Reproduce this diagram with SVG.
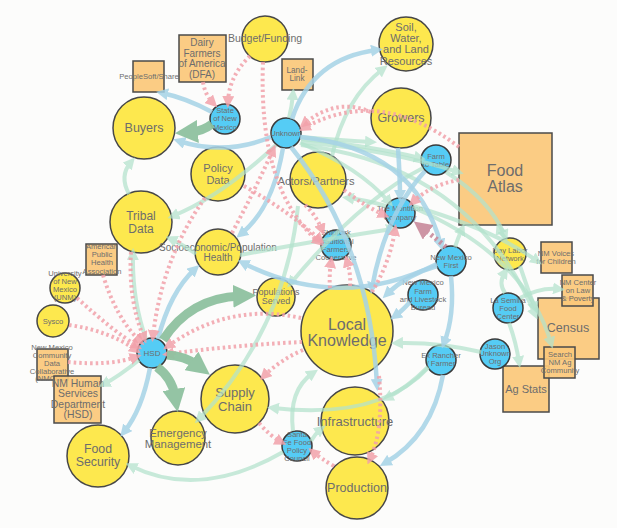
<svg xmlns="http://www.w3.org/2000/svg" width="617" height="528" viewBox="0 0 617 528">
<defs>
<style>
.y{fill:#fde84e;stroke:#474747;stroke-width:1.5}
.c{fill:#55ccf5;stroke:#3a3a3a;stroke-width:1.5}
.o{fill:#fbc87a;fill-opacity:0.92;stroke:#4a4a4a;stroke-width:1.5}
text{font-family:"Liberation Sans",Arial,sans-serif;fill:#6d6d6d;text-anchor:middle;dominant-baseline:central}
.s{font-size:7.6px}
.b{fill:none;stroke:#a6d3e7;stroke-width:4.5;marker-end:url(#ab);opacity:0.85}
.g{fill:none;stroke:#b3e3cd;stroke-width:4;marker-end:url(#ag);opacity:0.72}
.p{fill:none;stroke:#f2a2ab;stroke-width:4;stroke-dasharray:2.5 3;marker-end:url(#ap);opacity:0.85}
.m{fill:none;stroke:#c98a9b;stroke-width:5;stroke-dasharray:2.5 3;marker-end:url(#am);opacity:0.9}
.dg{fill:none;stroke:#8fc2a0;stroke-width:9;marker-end:url(#adg);opacity:0.95}
</style>
<marker id="ab" viewBox="0 0 10 10" refX="5" refY="5" markerWidth="12" markerHeight="12" orient="auto" markerUnits="userSpaceOnUse"><path d="M0,0L10,5L0,10z" fill="#a6d3e7"/></marker>
<marker id="ag" viewBox="0 0 10 10" refX="5" refY="5" markerWidth="12" markerHeight="12" orient="auto" markerUnits="userSpaceOnUse"><path d="M0,0L10,5L0,10z" fill="#b3e3cd"/></marker>
<marker id="ap" viewBox="0 0 10 10" refX="5" refY="5" markerWidth="12" markerHeight="12" orient="auto" markerUnits="userSpaceOnUse"><path d="M0,0L10,5L0,10z" fill="#f2a2ab"/></marker>
<marker id="am" viewBox="0 0 10 10" refX="5" refY="5" markerWidth="18" markerHeight="18" orient="auto" markerUnits="userSpaceOnUse"><path d="M0,0L10,5L0,10z" fill="#c98a9b"/></marker>
<marker id="adg" viewBox="0 0 10 10" refX="3" refY="5" markerWidth="23" markerHeight="23" orient="auto" markerUnits="userSpaceOnUse"><path d="M0,0L10,5L0,10z" fill="#8fc2a0"/></marker>
</defs>
<rect width="617" height="528" fill="#fcfcfb"/>

<g id="nodes">
<g id="peoplesoft-share"><rect x="133" y="61" width="31" height="31" class="o"/><text x="149" y="76" class="s">PeopleSoft/Share</text></g>
<g id="dfa"><rect x="179" y="35" width="47" height="47" class="o"/><text x="202" style="font-size:10px"><tspan x="202" y="42">Dairy</tspan><tspan x="202" y="53">Farmers</tspan><tspan x="202" y="63">of America</tspan><tspan x="202" y="74">(DFA)</tspan></text></g>
<g id="land-link"><rect x="282" y="59" width="31" height="31" class="o"/><text style="font-size:8.2px"><tspan x="297" y="70">Land-</tspan><tspan x="297" y="78">Link</tspan></text></g>
<g id="food-atlas"><rect x="459" y="133" width="93" height="92" class="o"/><text style="font-size:16px"><tspan x="505" y="170">Food</tspan><tspan x="505" y="186">Atlas</tspan></text></g>
<g id="census"><rect x="538" y="298" width="61" height="61" class="o"/><text x="568" y="328" style="font-size:12.5px">Census</text></g>
<g id="nm-voices"><rect x="541" y="242" width="31" height="31" class="o"/><text class="s"><tspan x="556" y="253">NM Voices</tspan><tspan x="556" y="261">for Children</tspan></text></g>
<g id="nm-center-law"><rect x="562" y="275" width="31" height="31" class="o"/><text class="s"><tspan x="578" y="282">NM Center</tspan><tspan x="578" y="290">on Law</tspan><tspan x="578" y="298">&amp; Poverty</tspan></text></g>
<g id="ag-stats"><rect x="503" y="366" width="46" height="46" class="o"/><text x="526" y="389" style="font-size:11px">Ag Stats</text></g>
<g id="search-nm-ag"><rect x="544" y="347" width="31" height="31" class="o"/><text class="s"><tspan x="560" y="354">Search</tspan><tspan x="560" y="362">NM Ag</tspan><tspan x="560" y="370">Community</tspan></text></g>
<g id="apha"><rect x="86" y="244" width="31" height="31" class="o"/><text class="s"><tspan x="102" y="246">American</tspan><tspan x="102" y="254">Public</tspan><tspan x="102" y="262">Health</tspan><tspan x="102" y="271">Association</tspan></text></g>
<g id="nmcdc"><rect x="37" y="349" width="31" height="31" class="o"/><text class="s"><tspan x="52" y="347">New Mexico</tspan><tspan x="52" y="355">Community</tspan><tspan x="52" y="363">Data</tspan><tspan x="52" y="371">Collaborative</tspan><tspan x="52" y="378">(NMCDC)</tspan></text></g>
<g id="nm-hsd"><rect x="54" y="376" width="47" height="47" class="o"/><text style="font-size:10.4px"><tspan x="78" y="383">NM Human</tspan><tspan x="78" y="393">Services</tspan><tspan x="78" y="404">Department</tspan><tspan x="78" y="414">(HSD)</tspan></text></g>

<g id="budget-funding"><circle cx="265" cy="39" r="23" class="y"/><text x="265" y="38" style="font-size:10.5px">Budget/Funding</text></g>
<g id="soil-water-land"><circle cx="406" cy="44" r="27" class="y"/><text style="font-size:11px"><tspan x="406" y="27">Soil,</tspan><tspan x="406" y="38">Water,</tspan><tspan x="406" y="49">and Land</tspan><tspan x="406" y="61">Resources</tspan></text></g>
<g id="growers"><circle cx="401" cy="118" r="30" class="y"/><text x="401" y="118" style="font-size:12.5px">Growers</text></g>
<g id="buyers"><circle cx="144" cy="128" r="31" class="y"/><text x="144" y="128" style="font-size:12.5px">Buyers</text></g>
<g id="policy-data"><circle cx="218" cy="174" r="27" class="y"/><text style="font-size:11px"><tspan x="218" y="168">Policy</tspan><tspan x="218" y="180">Data</tspan></text></g>
<g id="tribal-data"><circle cx="141" cy="222" r="31" class="y"/><text style="font-size:12px"><tspan x="141" y="216">Tribal</tspan><tspan x="141" y="229">Data</tspan></text></g>
<g id="actors-partners"><circle cx="318" cy="180" r="28" class="y"/><text x="316" y="181" style="font-size:11.2px">Actors/Partners</text></g>
<g id="socio-health"><circle cx="218" cy="252" r="23" class="y"/><text style="font-size:10px"><tspan x="218" y="247">Socioeconomic/Population</tspan><tspan x="218" y="257">Health</tspan></text></g>
<g id="unm"><circle cx="65" cy="288" r="15" class="y"/><text class="s"><tspan x="65" y="273">University</tspan><tspan x="65" y="281">of New</tspan><tspan x="65" y="289">Mexico</tspan><tspan x="65" y="297">(UNM)</tspan></text></g>
<g id="sysco"><circle cx="53" cy="321" r="16" class="y"/><text x="53" y="321" class="s">Sysco</text></g>
<g id="populations-served"><circle cx="276" cy="297" r="19" class="y"/><text style="font-size:9px"><tspan x="276" y="292">Populations</tspan><tspan x="276" y="301">Served</tspan></text></g>
<g id="local-knowledge"><circle cx="347" cy="331" r="46" class="y"/><text style="font-size:16px"><tspan x="347" y="324">Local</tspan><tspan x="347" y="340">Knowledge</tspan></text></g>
<g id="supply-chain"><circle cx="235" cy="399" r="34" class="y"/><text style="font-size:13px"><tspan x="235" y="392">Supply</tspan><tspan x="235" y="406">Chain</tspan></text></g>
<g id="emergency-management"><circle cx="178" cy="438" r="27" class="y"/><text style="font-size:11.4px"><tspan x="178" y="433">Emergency</tspan><tspan x="178" y="444">Management</tspan></text></g>
<g id="food-security"><circle cx="98" cy="456" r="31" class="y"/><text style="font-size:12.3px"><tspan x="98" y="449">Food</tspan><tspan x="98" y="462">Security</tspan></text></g>
<g id="infrastructure"><circle cx="355" cy="421" r="34" class="y"/><text x="355" y="421" style="font-size:13px">Infrastructure</text></g>
<g id="production"><circle cx="357" cy="488" r="31" class="y"/><text x="357" y="488" style="font-size:12.5px">Production</text></g>
<g id="day-labor"><circle cx="510" cy="254" r="16" class="y"/><text class="s"><tspan x="510" y="250">Day Labor</tspan><tspan x="510" y="258">Network</tspan></text></g>

<g id="state-nm"><circle cx="225" cy="119" r="15" class="c"/><text class="s"><tspan x="225" y="110">State</tspan><tspan x="225" y="118">of New</tspan><tspan x="225" y="127">Mexico</tspan></text></g>
<g id="unknown"><circle cx="286" cy="133" r="15" class="c"/><text x="286" y="133" class="s">Unknown</text></g>
<g id="farm-to-table"><circle cx="436" cy="160" r="15" class="c"/><text class="s"><tspan x="436" y="156">Farm</tspan><tspan x="436" y="164">to Table</tspan></text></g>
<g id="montition"><circle cx="400" cy="213" r="15" class="c"/><text class="s"><tspan x="400" y="208">The Montition</tspan><tspan x="400" y="217">Company</tspan></text></g>
<g id="shiprock"><circle cx="336" cy="245" r="15" class="c"/><text class="s"><tspan x="336" y="232">Shiprock</tspan><tspan x="336" y="241">Traditional</tspan><tspan x="336" y="249">Farmers</tspan><tspan x="336" y="257">Cooperative</tspan></text></g>
<g id="nm-first"><circle cx="451" cy="261" r="15" class="c"/><text class="s"><tspan x="451" y="257">New Mexico</tspan><tspan x="451" y="265">First</tspan></text></g>
<g id="nm-farm-livestock"><circle cx="423" cy="295" r="15" class="c"/><text class="s"><tspan x="423" y="282">New Mexico</tspan><tspan x="423" y="291">Farm</tspan><tspan x="423" y="299">and Livestock</tspan><tspan x="423" y="307">Bureau</tspan></text></g>
<g id="la-semilla"><circle cx="508" cy="308" r="15" class="c"/><text class="s"><tspan x="508" y="300">La Semilla</tspan><tspan x="508" y="308">Food</tspan><tspan x="508" y="316">Center</tspan></text></g>
<g id="jason-org"><circle cx="495" cy="354" r="15" class="c"/><text class="s"><tspan x="495" y="346">Jason</tspan><tspan x="495" y="353">Unknown</tspan><tspan x="495" y="361">Org</tspan></text></g>
<g id="ex-rancher"><circle cx="441" cy="360" r="15" class="c"/><text class="s"><tspan x="441" y="355">Ex Rancher</tspan><tspan x="441" y="363">/ Farmer</tspan></text></g>
<g id="hsd"><circle cx="152" cy="353" r="15" class="c"/><text x="152" y="353" style="font-size:8px">HSD</text></g>
<g id="santa-fe-fpc"><circle cx="297" cy="446" r="15" class="c"/><text class="s"><tspan x="297" y="434">Santa</tspan><tspan x="297" y="442">Fe Food</tspan><tspan x="297" y="450">Policy</tspan><tspan x="297" y="458">Council</tspan></text></g>
</g>

<g id="connectors">
<path class="g" d="M301,137 Q338,140 371,142"/>
<path class="g" d="M301,139 Q372,146 420,158"/>
<path class="g" d="M301,142 Q390,150 458,172"/>
<path class="g" d="M300,143 Q360,168 389,202"/>
<path class="g" d="M301,145 Q470,165 535,314"/>
<path class="g" d="M276,145 Q222,196 173,216"/>
<path class="g" d="M289,118 Q292,106 293,94"/>
<path class="g" d="M332,156 Q345,98 383,69"/>
<path class="g" d="M129,194 Q119,176 131,162"/>
<path class="g" d="M196,254 Q184,245 171,239"/>
<path class="g" d="M139,360 Q118,377 104,384"/>
<path class="g" d="M146,339 Q132,300 133,254"/>
<path class="g" d="M283,452 Q200,500 131,466"/>
<path class="g" d="M428,368 Q380,420 273,408"/>
<path class="g" d="M293,431 Q288,390 313,373"/>
<path class="g" d="M311,441 Q315,434 321,429"/>
<path class="g" d="M428,367 Q408,387 387,398"/>
<path class="g" d="M481,352 Q440,342 397,343"/>
<path class="g" d="M505,238 Q501,233 499,228"/>
<path class="g" d="M455,247 Q458,238 462,229"/>
<path class="g" d="M413,206 Q495,230 537,261"/>
<path class="g" d="M520,298 Q540,287 559,289"/>
<path class="g" d="M520,266 Q528,290 535,308"/>
<path class="g" d="M414,208 Q525,255 551,343"/>
<path class="g" d="M509,323 Q516,342 519,362"/>
<path class="g" d="M386,206 Q366,200 348,198"/>
<path class="g" d="M240,255 Q320,240 392,229"/>
<path class="g" d="M298,206 Q285,330 199,419"/>
<path class="g" d="M505,293 Q498,283 505,272"/>
<path class="g" d="M446,172 Q490,200 505,236"/>
<path class="g" d="M423,168 Q360,200 291,283"/>

<path class="b" d="M212,112 Q186,98 162,93"/>
<path class="b" d="M271,137 Q225,156 179,141"/>
<path class="b" d="M292,119 Q312,58 377,50"/>
<path class="b" d="M283,148 Q273,208 241,234"/>
<path class="b" d="M291,147 Q370,245 377,385"/>
<path class="b" d="M443,375 Q432,436 385,463"/>
<path class="b" d="M410,302 Q402,311 395,316"/>
<path class="b" d="M437,266 Q408,274 387,294"/>
<path class="b" d="M150,368 Q142,410 124,432"/>
<path class="b" d="M158,339 Q170,292 195,269"/>
<path class="b" d="M437,264 Q340,312 243,263"/>
<path class="b" d="M451,276 Q455,315 444,343"/>
<path class="b" d="M300,137 Q415,148 441,245"/>
<path class="b" d="M398,148 Q400,178 400,196"/>
<path class="b" d="M425,171 Q385,215 372,288"/>

<path class="p" d="M203,82 Q205,95 213,103"/>
<path class="p" d="M250,56 Q229,76 228,102"/>
<path class="p" d="M263,62 Q258,190 319,242"/>
<path class="p" d="M371,112 Q336,97 304,124"/>
<path class="p" d="M459,147 Q380,86 304,128"/>
<path class="p" d="M459,180 Q430,185 413,202"/>
<path class="p" d="M305,205 Q316,215 322,230"/>
<path class="p" d="M244,186 Q290,212 320,240"/>
<path class="p" d="M330,288 Q329,275 331,262"/>
<path class="p" d="M350,286 Q351,274 347,261"/>
<path class="p" d="M372,292 Q390,262 395,230"/>
<path class="p" d="M344,190 Q365,206 384,215"/>
<path class="p" d="M77,298 Q112,330 137,346"/>
<path class="p" d="M69,325 Q110,331 136,350"/>
<path class="p" d="M68,362 Q110,366 136,357"/>
<path class="p" d="M103,275 Q116,318 140,341"/>
<path class="p" d="M131,252 Q128,300 144,338"/>
<path class="p" d="M205,198 Q162,258 153,336"/>
<path class="p" d="M301,318 Q230,302 168,346"/>
<path class="p" d="M302,342 Q235,345 168,354"/>
<path class="p" d="M303,350 Q280,360 264,376"/>
<path class="p" d="M259,423 Q270,436 281,442"/>
<path class="p" d="M334,466 Q320,458 313,452"/>
<path class="p" d="M379,376 Q384,430 370,459"/>
<path class="p" d="M232,233 Q255,190 273,150"/>

<path class="m" d="M446,247 Q433,236 421,227"/>

<path class="dg" d="M212,124 Q203,131 191,132"/>
<path class="dg" d="M163,340 Q190,298 240,296"/>
<path class="dg" d="M167,355 Q185,356 197,365"/>
<path class="dg" d="M157,367 Q172,378 175,396"/>
</g>
</svg>
